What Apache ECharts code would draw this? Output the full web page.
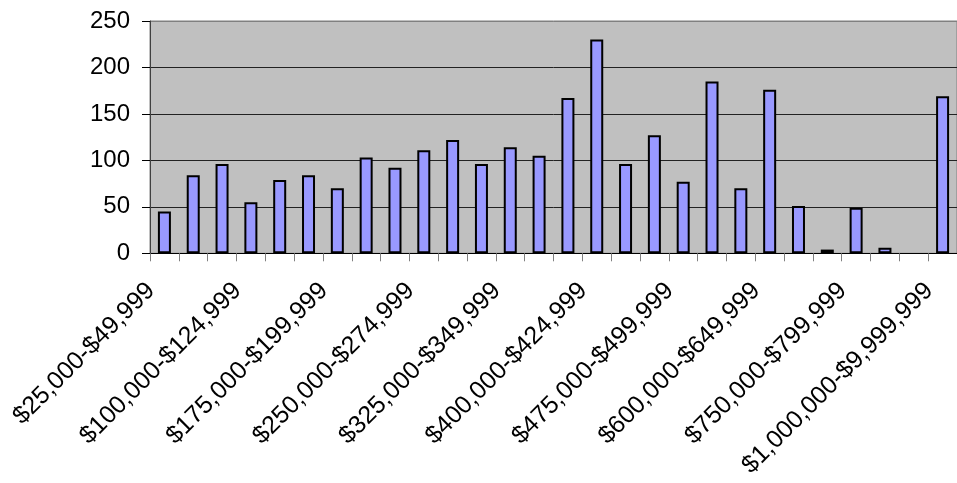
<!DOCTYPE html>
<html>
<head>
<meta charset="utf-8">
<script src="https://cdn.jsdelivr.net/npm/echarts@6/dist/echarts.min.js"></script>
<style>
html,body{margin:0;padding:0;background:#fff;}
#chart{width:957px;height:483px;}
</style>
</head>
<body>
<div id="chart"></div>
<script>
const categories = [
  "$25,000-$49,999","$50,000-$74,999","$75,000-$99,999",
  "$100,000-$124,999","$125,000-$149,999","$150,000-$174,999",
  "$175,000-$199,999","$200,000-$224,999","$225,000-$249,999",
  "$250,000-$274,999","$275,000-$299,999","$300,000-$324,999",
  "$325,000-$349,999","$350,000-$374,999","$375,000-$399,999",
  "$400,000-$424,999","$425,000-$449,999","$450,000-$474,999",
  "$475,000-$499,999","$500,000-$549,999","$550,000-$599,999",
  "$600,000-$649,999","$650,000-$699,999","$700,000-$749,999",
  "$750,000-$799,999","$800,000-$899,999","$900,000-$999,999",
  "$1,000,000-$9,999,999"
];
const counts = [45,84,96,55,79,84,70,103,92,111,122,96,114,105,167,230,96,127,77,185,70,176,51,4,49,6,0,169];
const yTicks = [0,50,100,150,200,250];

const splitColors = yTicks.map((t, i) => i === yTicks.length - 1 ? '#808080' : '#222');

const chart = echarts.init(document.getElementById('chart'), null, {renderer:'canvas'});
chart.setOption({
  animation: false,
  grid: {
    left: 150, top: 21, width: 810, height: 232.3,
    show: true, backgroundColor: '#C0C0C0', borderColor: '#808080', borderWidth: 1
  },
  xAxis: {
    type: 'category',
    data: categories,
    boundaryGap: true,
    axisLine: {show: true, lineStyle: {color: '#000', width: 1}},
    axisTick: {show: true, interval: 0, length: 8, lineStyle: {color: '#808080'}},
    axisLabel: {
      interval: 2, rotate: 45, margin: 20,
      padding: [0, 19, 0, 0],
      fontFamily: 'Liberation Sans, Arial, sans-serif', fontSize: 25, color: '#000'
    },
    splitLine: {show: false}
  },
  yAxis: {
    type: 'value',
    min: yTicks[0], max: yTicks[yTicks.length-1], interval: yTicks[1]-yTicks[0],
    axisLine: {show: true, lineStyle: {color: '#404040', width: 1}},
    axisTick: {show: true, length: 8, lineStyle: {color: '#000'}},
    axisLabel: {margin: 20, fontFamily: 'Liberation Sans, Arial, sans-serif', fontSize: 24, color: '#000'},
    splitLine: {show: true, lineStyle: {color: splitColors, width: 1}}
  },
  series: [{
    type: 'bar',
    data: counts.map(v => v === 0 ? {value: v, itemStyle: {borderWidth: 0}} : v),
    barWidth: 13,
    itemStyle: {color: '#9999FF', borderColor: '#000', borderWidth: 2}
  }]
});
</script>
</body>
</html>
